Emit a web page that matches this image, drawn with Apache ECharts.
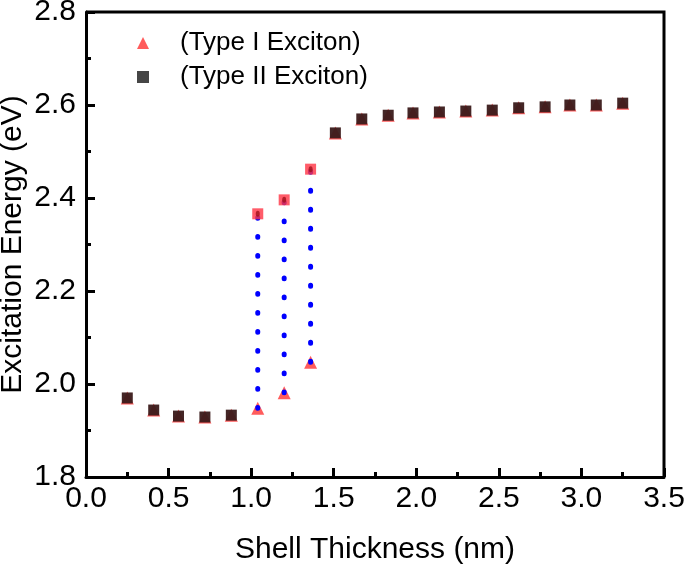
<!DOCTYPE html>
<html style="height: 100%">
<head>
    <meta charset="utf-8">
    <script src="https://cdn.jsdelivr.net/npm/echarts@6/dist/echarts.min.js"></script>
</head>
<body style="height: 100%; margin: 0; background: #fff">
    <div id="container" style="width: 685px; height: 567px"></div>
    <script type="text/javascript">
        // shell thickness (nm)
        var thickness = [0.25, 0.41, 0.56, 0.72, 0.88, 1.04, 1.20, 1.36, 1.51, 1.67,
                         1.83, 1.98, 2.14, 2.30, 2.46, 2.62, 2.78, 2.93, 3.09, 3.25];
        // excitation energy (eV)
        var typeI = [1.970, 1.944, 1.931, 1.929, 1.933, 1.948, 1.981, 2.047, 2.540, 2.570,
                     2.578, 2.583, 2.585, 2.587, 2.589, 2.594, 2.596, 2.600, 2.600, 2.604];
        var typeII = [1.970, 1.944, 1.931, 1.929, 1.933, null, null, null, 2.540, 2.570,
                      2.578, 2.583, 2.585, 2.587, 2.589, 2.594, 2.596, 2.600, 2.600, 2.604];
        // upper branch where the two excitons split
        var splitX = [1.04, 1.20, 1.36];
        var splitLow = [1.948, 1.981, 2.047];
        var splitHigh = [2.366, 2.396, 2.462];
        var xTicks = [0.0, 0.5, 1.0, 1.5, 2.0, 2.5, 3.0, 3.5];
        var yTicks = [1.8, 2.0, 2.2, 2.4, 2.6, 2.8];

        var font = 'Liberation Sans, Arial, sans-serif';

        function pairs(xs, ys) {
            var out = [];
            for (var i = 0; i < xs.length; i++) {
                if (ys[i] != null) out.push([xs[i], ys[i]]);
            }
            return out;
        }

        var series = [];
        // dotted connectors
        for (var i = 0; i < splitX.length; i++) {
            series.push({
                type: 'line',
                data: [[splitX[i], splitLow[i]], [splitX[i], splitHigh[i]]],
                symbol: 'none',
                silent: true,
                z: 3,
                lineStyle: { color: '#0000ff', width: 5, type: [0.8, 18.2], cap: 'round' }
            });
        }
        series.push({
            name: '(Type I Exciton)',
            type: 'scatter',
            symbol: 'triangle',
            symbolSize: 13,
            z: 2,
            itemStyle: { color: '#ff3333' },
            data: pairs(thickness, typeI)
        });
        series.push({
            name: '(Type II Exciton)',
            type: 'scatter',
            symbol: 'rect',
            symbolSize: 11,
            z: 4,
            itemStyle: { color: '#3a1a1a', opacity: 0.95 },
            data: pairs(thickness, typeII)
        });
        series.push({
            type: 'scatter',
            symbol: 'rect',
            symbolSize: 11,
            z: 4,
            itemStyle: { color: '#ff3344' },
            data: pairs(splitX, splitHigh)
        });
        series.push({
            type: 'scatter',
            symbol: 'circle',
            symbolSize: [4, 6],
            z: 5,
            itemStyle: { color: '#a0101a' },
            data: pairs(splitX, splitHigh)
        });

        var myChart = echarts.init(document.getElementById('container'));
        var option = {
            animation: false,
            backgroundColor: '#fff',
            grid: { left: 86, right: 21, top: 12, bottom: 90, containLabel: false, outerBoundsMode: 'none' },
            legend: {
                data: [
                    { name: '(Type I Exciton)', icon: 'triangle', itemStyle: { color: '#ff3333' } },
                    { name: '(Type II Exciton)', icon: 'rect', itemStyle: { color: '#3c3c3c' } }
                ],
                orient: 'vertical',
                left: 132,
                top: 25,
                itemWidth: 12,
                itemHeight: 12,
                itemGap: 8,
                textStyle: { fontFamily: font, fontSize: 26, color: '#000', padding: [0, 0, 0, 26] }
            },
            xAxis: {
                type: 'value',
                min: 0, max: 3.5, interval: 0.5,
                name: 'Shell Thickness (nm)',
                nameLocation: 'middle',
                nameGap: 58,
                nameMoveOverlap: false,
                nameTextStyle: { fontFamily: font, fontSize: 30, color: '#000' },
                axisLine: { show: true, onZero: false, lineStyle: { color: '#000', width: 3 } },
                axisTick: { show: true, inside: true, length: 9, lineStyle: { color: '#000', width: 3 } },
                minorTick: { show: true, splitNumber: 2, length: 5, lineStyle: { color: '#000', width: 3 } },
                axisLabel: {
                    fontFamily: font, fontSize: 30, color: '#000', margin: 7,
                    formatter: function (v) { return v.toFixed(1); }
                },
                splitLine: { show: false }
            },
            yAxis: {
                type: 'value',
                min: 1.8, max: 2.8, interval: 0.2,
                name: 'Excitation Energy (eV)',
                nameLocation: 'middle',
                nameGap: 58,
                nameMoveOverlap: false,
                nameTextStyle: { fontFamily: font, fontSize: 30, color: '#000' },
                axisLine: { show: true, onZero: false, lineStyle: { color: '#000', width: 3 } },
                axisTick: { show: true, inside: true, length: 9, lineStyle: { color: '#000', width: 3 } },
                minorTick: { show: true, splitNumber: 2, length: 5, lineStyle: { color: '#000', width: 3 } },
                axisLabel: {
                    fontFamily: font, fontSize: 30, color: '#000', margin: 10,
                    formatter: function (v) { return v.toFixed(1); }
                },
                splitLine: { show: false }
            },
            series: series
        };
        myChart.setOption(option);

        // top and right frame
        var tl = myChart.convertToPixel({ gridIndex: 0 }, [0, 2.8]);
        var br = myChart.convertToPixel({ gridIndex: 0 }, [3.5, 1.8]);
        myChart.setOption({
            graphic: [{
                type: 'polyline',
                silent: true,
                shape: { points: [[tl[0], tl[1]], [br[0], tl[1]], [br[0], br[1]]] },
                style: { stroke: '#000', lineWidth: 3, fill: null }
            }]
        });
    </script>
</body>
</html>
